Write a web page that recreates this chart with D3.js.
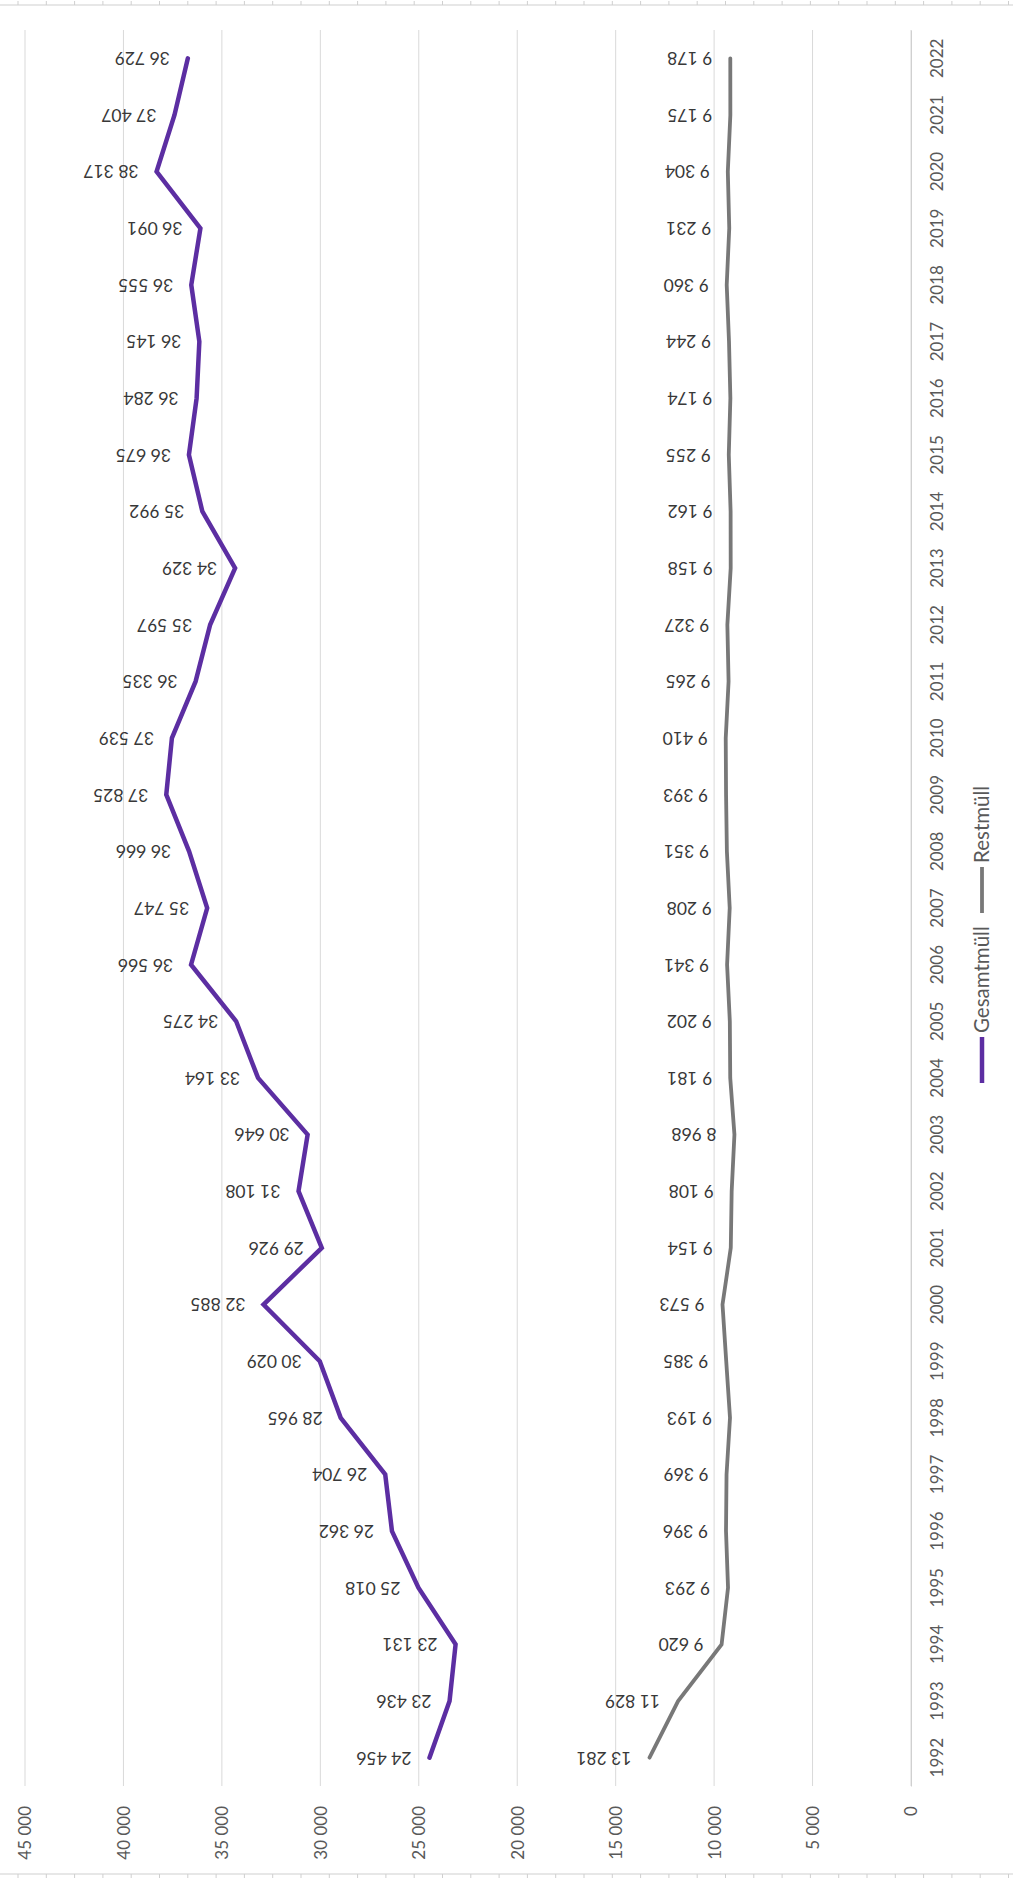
<!DOCTYPE html>
<html lang="de">
<head>
    <meta charset="UTF-8">
    <title>Gesamtmüll und Restmüll</title>
    <script src="https://d3js.org/d3.v7.min.js"></script>
</head>
<body>
<style>
    body {
        margin: 0;
        background: #fff;
    }
    svg {
        display: block;
        font-family: Lato, "Noto Sans", sans-serif;
    }
</style>
<script>
    var years = [1992, 1993, 1994, 1995, 1996, 1997, 1998, 1999, 2000, 2001, 2002,
                 2003, 2004, 2005, 2006, 2007, 2008, 2009, 2010, 2011, 2012,
                 2013, 2014, 2015, 2016, 2017, 2018, 2019, 2020, 2021, 2022];
    var gesamt = [24456, 23436, 23131, 25018, 26362, 26704, 28965, 30029, 32885, 29926, 31108,
                  30646, 33164, 34275, 36566, 35747, 36666, 37825, 37539, 36335, 35597,
                  34329, 35992, 36675, 36284, 36145, 36555, 36091, 38317, 37407, 36729];
    var rest = [13281, 11829, 9620, 9293, 9396, 9369, 9193, 9385, 9573, 9154, 9108,
                8968, 9181, 9202, 9341, 9208, 9351, 9393, 9410, 9265, 9327,
                9158, 9162, 9255, 9174, 9244, 9360, 9231, 9304, 9175, 9178];
    var valueTicks = [0, 5000, 10000, 15000, 20000, 25000, 30000, 35000, 40000, 45000];
    var seriesNames = ["Gesamtmüll", "Restmüll"];
    var seriesColors = ["#5c2ea2", "#787878"];

    var W = 1013, H = 1879;
    var plot = {left: 25, right: 911, top: 30, bottom: 1786};

    var de = d3.formatLocale({decimal: ",", thousands: " ", grouping: [3], currency: ["", " €"]});
    var fmt = de.format(",d");

    var svg = d3.select("body")
        .append("svg")
        .attr("width", W)
        .attr("height", H);

    // ruler edges top and bottom
    var ruler = svg.append("g").attr("stroke", "#cfcfcf");
    ruler.append("line").attr("x1", 0).attr("x2", W).attr("y1", 5).attr("y2", 5);
    ruler.append("line").attr("x1", 0).attr("x2", W).attr("y1", H - 5).attr("y2", H - 5);
    d3.range(18, W, 28.3).forEach(function (t) {
        ruler.append("line").attr("x1", t).attr("x2", t).attr("y1", 1).attr("y2", 5);
        ruler.append("line").attr("x1", t).attr("x2", t).attr("y1", H - 5).attr("y2", H - 1);
    });

    var x = d3.scaleLinear()
        .domain([0, 45000])
        .range([plot.right, plot.left]);
    var y = d3.scaleBand()
        .domain(years)
        .range([plot.bottom, plot.top]);
    function yc(d) { return y(d) + y.bandwidth() / 2; }

    // gridlines
    svg.append("g")
        .selectAll("line")
        .data(valueTicks)
        .enter().append("line")
        .attr("x1", function (d) { return x(d); })
        .attr("x2", function (d) { return x(d); })
        .attr("y1", plot.top)
        .attr("y2", plot.bottom)
        .attr("stroke", "#d9d9d9")
        .attr("stroke-width", 1);

    // value axis
    var xAxis = svg.append("g")
        .attr("transform", "translate(0," + plot.bottom + ")")
        .call(d3.axisBottom(x).tickValues(valueTicks).tickSize(0).tickFormat(fmt));
    xAxis.select(".domain").remove();
    xAxis.selectAll("text")
        .attr("x", 0)
        .attr("y", 0)
        .attr("dy", "0.35em")
        .attr("text-anchor", "end")
        .attr("transform", "translate(0,20) rotate(-90)")
        .style("font-size", "17px")
        .style("fill", "#595959")
        .style("font-family", "Lato, sans-serif");

    // category axis
    var yAxis = svg.append("g")
        .attr("transform", "translate(" + plot.right + ",0)")
        .call(d3.axisRight(y).tickSize(0));
    yAxis.select(".domain").attr("stroke", "#d0d0d0");
    yAxis.selectAll("text")
        .attr("x", 0)
        .attr("dy", "0.35em")
        .attr("text-anchor", "middle")
        .attr("transform", "translate(26,0) rotate(-90)")
        .style("font-size", "17px")
        .style("fill", "#595959")
        .style("font-family", "Lato, sans-serif");

    var series = [gesamt, rest];
    var widths = [4.5, 3.8];

    series.forEach(function (vals, k) {
        var pts = years.map(function (yr, i) { return {year: yr, value: vals[i]}; });

        var line = d3.line()
            .x(function (d) { return x(d.value); })
            .y(function (d) { return yc(d.year); });

        svg.append("path")
            .datum(pts)
            .attr("fill", "none")
            .attr("stroke", seriesColors[k])
            .attr("stroke-width", widths[k])
            .attr("stroke-linecap", "round")
            .attr("d", line);

        svg.append("g")
            .selectAll("text")
            .data(pts)
            .enter().append("text")
            .attr("transform", function (d) {
                return "translate(" + (x(d.value) - 18) + "," + yc(d.year) + ") rotate(180)";
            })
            .attr("text-anchor", "start")
            .attr("dy", "0.35em")
            .style("font-size", "17.5px")
            .style("fill", "#383838")
            .text(function (d) { return fmt(d.value); });
    });

    // legend
    var legend = svg.append("g")
        .attr("transform", "translate(982,1083) rotate(-90)");
    seriesNames.forEach(function (name, k) {
        var off = k * 170;
        legend.append("line")
            .attr("x1", off).attr("x2", off + 46)
            .attr("y1", 0).attr("y2", 0)
            .attr("stroke", seriesColors[k])
            .attr("stroke-width", widths[k]);
        legend.append("text")
            .attr("x", off + 50)
            .attr("dy", "0.35em")
            .style("font-size", "20.5px")
            .style("fill", "#595959")
            .text(name);
    });
</script>
</body>
</html>
